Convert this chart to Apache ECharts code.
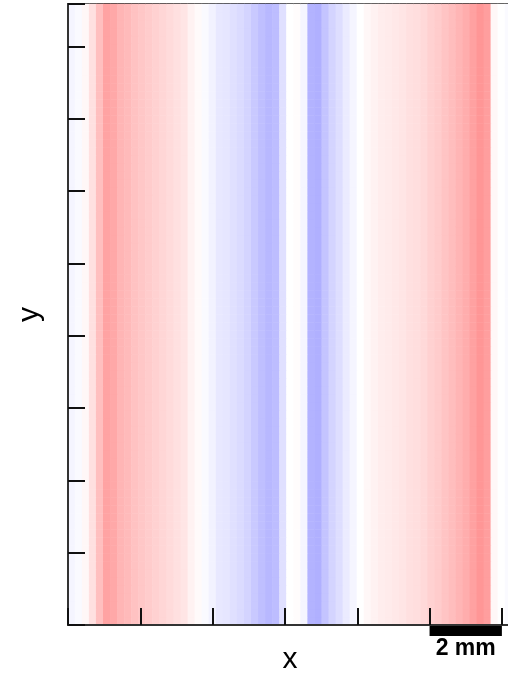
<!DOCTYPE html>
<html>
<head>
<meta charset="utf-8">
<script src="https://cdn.jsdelivr.net/npm/echarts@6/dist/echarts.min.js"></script>
<style>
  html, body { margin: 0; padding: 0; background: #fff; }
  #main { width: 508px; height: 675px; }
</style>
</head>
<body>
<div id="main"></div>
<script>
// column profile across x (left -> right), red > 0, blue < 0
const columnValues = [
  -0.04, -0.02, 0.03, 0.12, 0.25, 0.36, 0.34, 0.29, 0.27, 0.24,
  0.22, 0.2, 0.18, 0.16, 0.14, 0.12, 0.1, 0.05, 0.02, -0.02,
  -0.05, -0.09, -0.1, -0.12, -0.14, -0.17, -0.21, -0.25, -0.28, -0.26,
  -0.12, 0.0, 0.01, -0.04, -0.3, -0.31, -0.23, -0.17, -0.13, -0.08,
  -0.04, 0.0, 0.03, 0.05, 0.07, 0.08, 0.09, 0.1, 0.12, 0.13,
  0.15, 0.18, 0.2, 0.23, 0.26, 0.29, 0.32, 0.37, 0.41, 0.38,
  0.03, 0.0, -0.02
]
const rowCount = 78
const widthMm = 12.28
const heightMm = 17.18
const tickMm = 2
const scaleBarMm = [10, 12]
const scaleBarLabel = '2 mm'

const xCats = columnValues.map((v, i) => i)
const yCats = []
for (let j = 0; j < rowCount; j++) yCats.push(j)
const cells = []
for (let j = 0; j < rowCount; j++) {
  columnValues.forEach((v, i) => cells.push([i, j, v]))
}

const myChart = echarts.init(document.getElementById('main'))
const option = {
  animation: false,
  grid: {
    left: 68, top: 4, width: 444, height: 621,
    outerBoundsMode: 'none', containLabel: false,
    show: true, borderColor: '#333', borderWidth: 2, backgroundColor: 'transparent'
  },
  visualMap: {
    show: false, min: -1, max: 1, calculable: false,
    inRange: { color: ['#0000ff', '#ffffff', '#ff0000'] }
  },
  xAxis: [
    { type: 'category', data: xCats, show: false },
    {
      type: 'value', min: 0, max: widthMm, interval: tickMm, position: 'bottom', z: 10,
      axisLine: { show: true, onZero: false, lineStyle: { color: '#333', width: 2 } },
      axisTick: { show: true, inside: true, length: 17, lineStyle: { color: '#111', width: 2 } },
      axisLabel: { show: false }, splitLine: { show: false },
      name: 'x', nameLocation: 'middle', nameGap: 20,
      nameTextStyle: { fontFamily: 'Liberation Sans', fontSize: 30, color: '#000' }
    }
  ],
  yAxis: [
    { type: 'category', data: yCats, show: false },
    {
      type: 'value', min: 0, max: heightMm, interval: tickMm, position: 'left', z: 10,
      axisLine: { show: true, onZero: false, lineStyle: { color: '#333', width: 2 } },
      axisTick: { show: true, inside: true, length: 17, lineStyle: { color: '#111', width: 2 } },
      axisLabel: { show: false }, splitLine: { show: false },
      name: 'y', nameLocation: 'middle', nameGap: 23,
      nameTextStyle: { fontFamily: 'Liberation Sans', fontSize: 30, color: '#000' }
    }
  ],
  series: [{
    type: 'heatmap',
    xAxisIndex: 0, yAxisIndex: 0,
    data: cells,
    itemStyle: { borderWidth: 0 },
    emphasis: { disabled: true }
  }]
}
myChart.setOption(option)

// scale bar under the x axis, positioned through the axis scale
const x0 = myChart.convertToPixel({ xAxisIndex: 1 }, scaleBarMm[0])
const x1 = myChart.convertToPixel({ xAxisIndex: 1 }, scaleBarMm[1])
const yBase = myChart.convertToPixel({ yAxisIndex: 1 }, 0)
myChart.setOption({
  graphic: [
    { type: 'rect', shape: { x: x0, y: yBase - 1, width: x1 - x0, height: 12 }, style: { fill: '#000' }, z: 10 },
    {
      type: 'text', x: (x0 + x1) / 2, y: yBase + 24,
      style: { text: scaleBarLabel, fill: '#000', font: 'bold 23px "Liberation Sans"', align: 'center', verticalAlign: 'middle' },
      z: 10
    }
  ]
})
</script>
</body>
</html>
